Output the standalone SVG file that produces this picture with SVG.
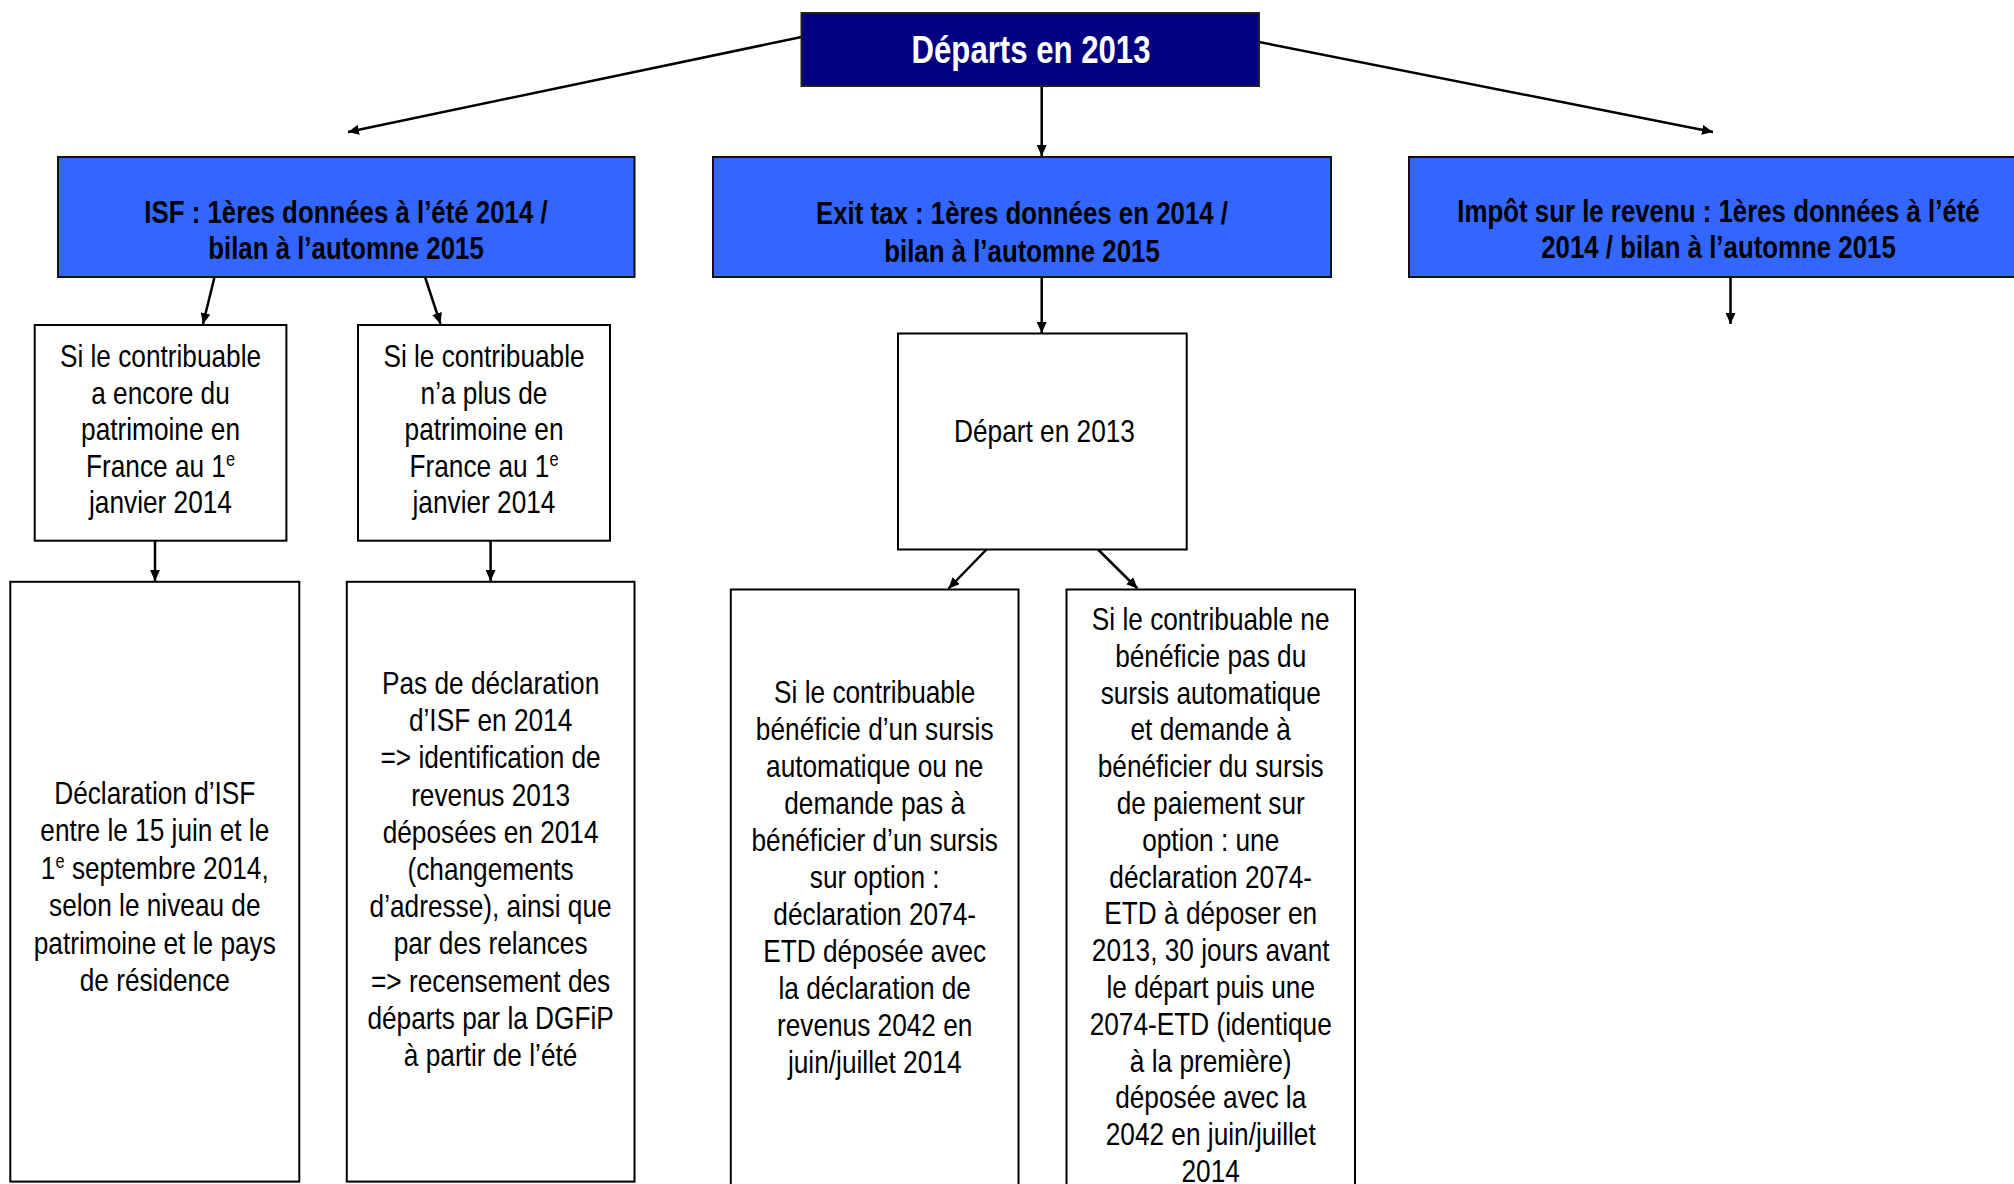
<svg xmlns="http://www.w3.org/2000/svg" width="2014" height="1184" viewBox="0 0 2014 1184">
<defs>
<marker id="ah" markerUnits="userSpaceOnUse" markerWidth="12" markerHeight="10" refX="11" refY="5" orient="auto">
<path d="M0,0 L11,5 L0,10 z" fill="#000"/>
</marker>
<style>
.box{fill:#fff;stroke:#000;stroke-width:2}
.blue{fill:#3366ff;stroke:#111;stroke-width:2}
.navy{fill:#000080;stroke:#222;stroke-width:2}
.t{font-family:"Liberation Sans",Arial,sans-serif;font-size:32px;fill:#000;text-anchor:middle}
.h{font-family:"Liberation Sans",Arial,sans-serif;font-size:31.5px;font-weight:bold;fill:#000;text-anchor:middle}
.ht{font-family:"Liberation Sans",Arial,sans-serif;font-size:38px;font-weight:bold;fill:#fff;text-anchor:middle}
.c{stroke:#000;stroke-width:2.5;fill:none;marker-end:url(#ah)}
.sup{font-size:20px}
</style>
</defs>
<rect width="2014" height="1184" fill="#fff"/>

<g id="connectors">
<line class="c" x1="801.5" y1="37" x2="348" y2="132"/>
<line class="c" x1="1041.7" y1="86" x2="1041.7" y2="156"/>
<line class="c" x1="1259" y1="42" x2="1713" y2="132"/>
<line class="c" x1="214.5" y1="277" x2="203" y2="324"/>
<line class="c" x1="425" y1="277" x2="440.5" y2="324"/>
<line class="c" x1="1041.7" y1="277" x2="1041.7" y2="333"/>
<line class="c" x1="1730.5" y1="277" x2="1730.5" y2="324"/>
<line class="c" x1="155" y1="541" x2="155" y2="581"/>
<line class="c" x1="490.6" y1="541" x2="490.6" y2="581"/>
<line class="c" x1="986.5" y1="549.5" x2="948.5" y2="588.5"/>
<line class="c" x1="1098" y1="549.5" x2="1137.5" y2="588.5"/>
</g>

<g id="n-top">
<rect class="navy" x="801.5" y="13" width="457.5" height="73"/>
<text class="ht" transform="translate(1031 0) scale(0.82 1)"><tspan x="0" y="63.5">Départs en 2013</tspan></text>
</g>

<g id="n-isf">
<rect class="blue" x="58" y="157" width="576.5" height="120"/>
<text class="h" transform="translate(346 0) scale(0.82 1)"><tspan x="0" y="223">ISF : 1ères données à l’été 2014 /</tspan><tspan x="0" y="259">bilan à l’automne 2015</tspan></text>
</g>

<g id="n-exit">
<rect class="blue" x="713" y="157" width="618" height="120"/>
<text class="h" transform="translate(1022 0) scale(0.82 1)"><tspan x="0" y="224.5">Exit tax : 1ères données en 2014 /</tspan><tspan x="0" y="262">bilan à l’automne 2015</tspan></text>
</g>

<g id="n-ir">
<rect class="blue" x="1409" y="157" width="620" height="120"/>
<text class="h" transform="translate(1718.5 0) scale(0.82 1)"><tspan x="0" y="222">Impôt sur le revenu : 1ères données à l’été</tspan><tspan x="0" y="258">2014 / bilan à l’automne 2015</tspan></text>
</g>

<g id="n-isf-a">
<rect class="box" x="34.7" y="325" width="251.7" height="215.7"/>
<text class="t" transform="translate(160.5 0) scale(0.82 1)"><tspan x="0" y="367">Si le contribuable</tspan><tspan x="0" y="403.6">a encore du</tspan><tspan x="0" y="440.2">patrimoine en</tspan><tspan x="0" y="476.8">France au 1<tspan class="sup" dy="-11">e</tspan></tspan><tspan x="0" y="513.4">janvier 2014</tspan></text>
</g>

<g id="n-isf-b">
<rect class="box" x="358" y="325" width="252" height="215.7"/>
<text class="t" transform="translate(484 0) scale(0.82 1)"><tspan x="0" y="367">Si le contribuable</tspan><tspan x="0" y="403.6">n’a plus de</tspan><tspan x="0" y="440.2">patrimoine en</tspan><tspan x="0" y="476.8">France au 1<tspan class="sup" dy="-11">e</tspan></tspan><tspan x="0" y="513.4">janvier 2014</tspan></text>
</g>

<g id="n-depart">
<rect class="box" x="898" y="333.5" width="288.7" height="216"/>
<text class="t" transform="translate(1044.5 0) scale(0.82 1)"><tspan x="0" y="442">Départ en 2013</tspan></text>
</g>

<g id="n-isf-a2">
<rect class="box" x="10.3" y="581.8" width="289" height="599.8"/>
<text class="t" transform="translate(154.8 0) scale(0.82 1)"><tspan x="0" y="804">Déclaration d’ISF</tspan><tspan x="0" y="841.5">entre le 15 juin et le</tspan><tspan x="0" y="879">1<tspan class="sup" dy="-11">e</tspan><tspan dy="11"> septembre 2014,</tspan></tspan><tspan x="0" y="916.5">selon le niveau de</tspan><tspan x="0" y="954">patrimoine et le pays</tspan><tspan x="0" y="991.5">de résidence</tspan></text>
</g>

<g id="n-isf-b2">
<rect class="box" x="346.8" y="581.8" width="287.7" height="599.8"/>
<text class="t" transform="translate(490.6 0) scale(0.82 1)"><tspan x="0" y="694">Pas de déclaration</tspan><tspan x="0" y="731.2">d’ISF en 2014</tspan><tspan x="0" y="768.4">=&gt; identification de</tspan><tspan x="0" y="805.6">revenus 2013</tspan><tspan x="0" y="842.8">déposées en 2014</tspan><tspan x="0" y="880">(changements</tspan><tspan x="0" y="917.2">d’adresse), ainsi que</tspan><tspan x="0" y="954.4">par des relances</tspan><tspan x="0" y="991.6">=&gt; recensement des</tspan><tspan x="0" y="1028.8">départs par la DGFiP</tspan><tspan x="0" y="1066">à partir de l’été</tspan></text>
</g>

<g id="n-exit-a">
<rect class="box" x="730.8" y="589.5" width="287.7" height="610"/>
<text class="t" transform="translate(874.7 0) scale(0.82 1)"><tspan x="0" y="703">Si le contribuable</tspan><tspan x="0" y="740">bénéficie d’un sursis</tspan><tspan x="0" y="777">automatique ou ne</tspan><tspan x="0" y="814">demande pas à</tspan><tspan x="0" y="851">bénéficier d’un sursis</tspan><tspan x="0" y="888">sur option :</tspan><tspan x="0" y="925">déclaration 2074-</tspan><tspan x="0" y="962">ETD déposée avec</tspan><tspan x="0" y="999">la déclaration de</tspan><tspan x="0" y="1036">revenus 2042 en</tspan><tspan x="0" y="1073">juin/juillet 2014</tspan></text>
</g>

<g id="n-exit-b">
<rect class="box" x="1066.5" y="589.5" width="288.5" height="610"/>
<text class="t" transform="translate(1210.7 0) scale(0.82 1)"><tspan x="0" y="630">Si le contribuable ne</tspan><tspan x="0" y="666.8">bénéficie pas du</tspan><tspan x="0" y="703.6">sursis automatique</tspan><tspan x="0" y="740.4">et demande à</tspan><tspan x="0" y="777.2">bénéficier du sursis</tspan><tspan x="0" y="814">de paiement sur</tspan><tspan x="0" y="850.8">option : une</tspan><tspan x="0" y="887.6">déclaration 2074-</tspan><tspan x="0" y="924.4">ETD à déposer en</tspan><tspan x="0" y="961.2">2013, 30 jours avant</tspan><tspan x="0" y="998">le départ puis une</tspan><tspan x="0" y="1034.8">2074-ETD (identique</tspan><tspan x="0" y="1071.6">à la première)</tspan><tspan x="0" y="1108.4">déposée avec la</tspan><tspan x="0" y="1145.2">2042 en juin/juillet</tspan><tspan x="0" y="1182">2014</tspan></text>
</g>
</svg>
